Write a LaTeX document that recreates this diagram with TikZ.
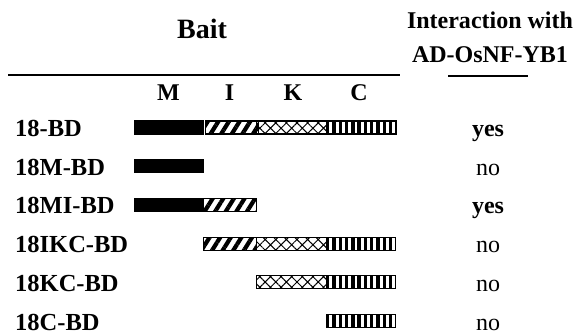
\documentclass[tikz,border=0pt]{standalone}
\usepackage{fontspec}
\setmainfont{Liberation Serif}
\usetikzlibrary{patterns.meta}
\begin{document}
\begin{tikzpicture}[x=1pt,y=-1pt,
  lab/.style={font=\fontsize{24.5}{28}\selectfont\bfseries, anchor=base west, inner sep=0},
  hdr/.style={font=\fontsize{24}{28}\selectfont\bfseries, anchor=base, inner sep=0},
  res/.style={font=\fontsize{24}{28}\selectfont, anchor=base, inner sep=0},
  resb/.style={font=\fontsize{24}{28}\selectfont\bfseries, anchor=base, inner sep=0},
  seg/.style={draw=black, line width=1.2pt, inner sep=0, minimum height=13pt, anchor=west},
  segM/.style={seg, fill=black, minimum width=69pt},
  segI/.style={seg, minimum width=53pt, pattern={Lines[angle=58,distance=9pt,line width=4.2pt]}},
  segK/.style={seg, minimum width=70pt, pattern={Hatch[angle=45,distance=7.5pt,line width=1pt]}},
  segC/.style={seg, minimum width=69pt, pattern={Lines[angle=90,distance=6.3pt,line width=3.4pt]}},
  rule/.style={line width=2.2pt},
]
\useasboundingbox (0,0) rectangle (577,335);
% header
\node[hdr, font=\fontsize{28}{32}\selectfont\bfseries] (bait) at (202,38) {Bait};
\node[hdr] (inter1) at (490,28) {Interaction with};
\node[hdr] (inter2) at (490,62) {AD-OsNF-YB1};
\coordinate (l1a) at (8,75); \coordinate (l1b) at (400,75);
\coordinate (l2a) at (448,76); \coordinate (l2b) at (528,76);
\draw[rule] (l1a) -- (l1b);
\draw[rule] (l2a) -- (l2b);
\node[hdr] (hM) at (168.5,100) {M};
\node[hdr] (hI) at (229.5,100) {I};
\node[hdr] (hK) at (293,100) {K};
\node[hdr] (hC) at (359,100) {C};
% row 1
\node[lab] (n1) at (15,136.5) {18-BD};
\node[segM] (r1m) at (134,127.5) {};
\node[segI] (r1i) at (203,127.5) {};
\node[segK] (r1k) at (256,127.5) {};
\node[segC] (r1c) at (326,127.5) {};
\node[resb] (a1) at (488,136.5) {yes};
% row 2
\node[lab] (n2) at (15,175.2) {18M-BD};
\node[segM] (r2m) at (134,166.2) {};
\node[res] (a2) at (488,175.2) {no};
% row 3
\node[lab] (n3) at (15,213.9) {18MI-BD};
\node[segM] (r3m) at (134,204.9) {};
\node[segI] (r3i) at (203,204.9) {};
\node[resb] (a3) at (488,213.9) {yes};
% row 4
\node[lab] (n4) at (15,252.6) {18IKC-BD};
\node[segI] (r4i) at (203,243.6) {};
\node[segK] (r4k) at (256,243.6) {};
\node[segC] (r4c) at (326,243.6) {};
\node[res] (a4) at (488,252.6) {no};
% row 5
\node[lab] (n5) at (15,291.3) {18KC-BD};
\node[segK] (r5k) at (256,282.3) {};
\node[segC] (r5c) at (326,282.3) {};
\node[res] (a5) at (488,291.3) {no};
% row 6
\node[lab] (n6) at (15,330) {18C-BD};
\node[segC] (r6c) at (326,321) {};
\node[res] (a6) at (488,330) {no};
\end{tikzpicture}
\end{document}
